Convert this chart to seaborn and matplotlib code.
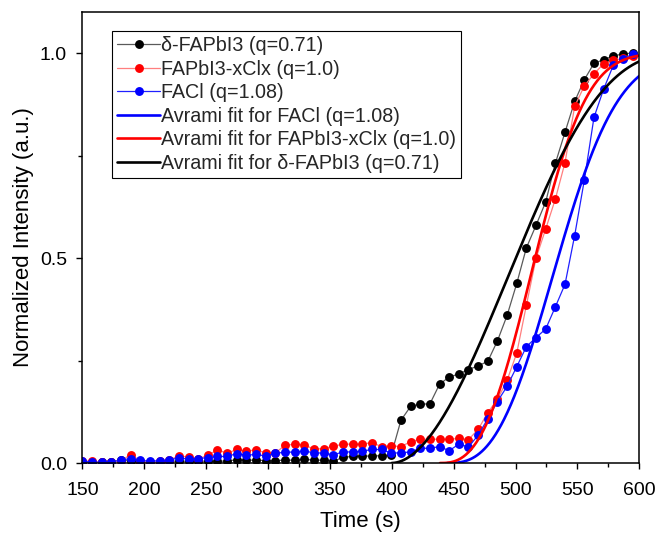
import numpy as np
import pandas as pd
import matplotlib
matplotlib.use("Agg")
import matplotlib.pyplot as plt
import seaborn as sns
from matplotlib.ticker import MultipleLocator

# Acquisition times (s)
time_s = [150.0, 157.8, 165.6, 173.4, 181.2, 189.0, 196.8, 204.6, 212.4, 220.2,
          228.0, 235.8, 243.6, 251.4, 259.2, 267.0, 274.8, 282.6, 290.4, 298.2,
          306.0, 313.8, 321.6, 329.4, 337.2, 345.0, 352.8, 360.6, 368.4, 376.2,
          384.0, 391.8, 399.6, 407.4, 415.2, 423.0, 430.8, 438.6, 446.4, 454.2,
          462.0, 469.8, 477.6, 485.4, 493.2, 501.0, 508.8, 516.6, 524.4, 532.2,
          540.0, 547.8, 555.6, 563.4, 571.2, 579.0, 586.8, 594.6]

# Normalized intensities
delta_fapbi3 = [0.001, 0.001, 0.002, 0.002, 0.008, 0.004, 0.003, 0.002, 0.003, 0.004,
                0.005, 0.004, 0.004, 0.005, 0.004, 0.005, 0.008, 0.007, 0.007, 0.006,
                0.006, 0.007, 0.007, 0.009, 0.007, 0.007, 0.004, 0.014, 0.016, 0.017,
                0.017, 0.018, 0.020, 0.104, 0.138, 0.144, 0.144, 0.192, 0.210, 0.217,
                0.228, 0.237, 0.248, 0.298, 0.360, 0.438, 0.525, 0.580, 0.637, 0.731,
                0.807, 0.882, 0.935, 0.975, 0.984, 0.993, 0.998, 1.000]
fapbi3_xclx = [0.006, 0.004, 0.002, 0.002, 0.006, 0.020, 0.006, 0.003, 0.005, 0.007,
               0.018, 0.014, 0.010, 0.019, 0.032, 0.024, 0.033, 0.029, 0.032, 0.025,
               0.025, 0.043, 0.046, 0.044, 0.034, 0.035, 0.041, 0.046, 0.046, 0.046,
               0.050, 0.040, 0.042, 0.040, 0.052, 0.058, 0.058, 0.058, 0.058, 0.060,
               0.057, 0.082, 0.123, 0.155, 0.202, 0.268, 0.385, 0.500, 0.571, 0.644,
               0.733, 0.870, 0.920, 0.949, 0.974, 0.982, 0.987, 0.993]
facl = [0.005, 0.002, 0.002, 0.003, 0.007, 0.011, 0.007, 0.004, 0.006, 0.007,
        0.013, 0.009, 0.011, 0.013, 0.016, 0.016, 0.023, 0.019, 0.021, 0.017,
        0.024, 0.026, 0.027, 0.029, 0.025, 0.024, 0.020, 0.027, 0.027, 0.029,
        0.033, 0.033, 0.024, 0.025, 0.027, 0.036, 0.036, 0.040, 0.030, 0.046,
        0.039, 0.068, 0.108, 0.150, 0.187, 0.235, 0.284, 0.306, 0.327, 0.381,
        0.436, 0.555, 0.690, 0.843, 0.912, 0.970, 0.985, 0.998]

# Generalized (q-exponential) Avrami fit parameters: onset t0 (s), time constant tau (s), exponent n, q
fit_facl = dict(t0=445.0, tau=101.0, n=2.75, q=1.08)
fit_xclx = dict(t0=439.0, tau=88.0, n=2.7, q=1.0)
fit_delta = dict(t0=400.0, tau=128.0, n=1.9, q=0.71)

series_labels = ["δ-FAPbI3 (q=0.71)", "FAPbI3-xClx (q=1.0)", "FACl (q=1.08)"]
fit_labels = ["Avrami fit for FACl (q=1.08)", "Avrami fit for FAPbI3-xClx (q=1.0)",
              "Avrami fit for δ-FAPbI3 (q=0.71)"]


def avrami_q(t, t0, tau, n, q):
    u = (np.clip(t - t0, 0, None) / tau) ** n
    if abs(q - 1.0) < 1e-9:
        return 1.0 - np.exp(-u)
    base = np.clip(1.0 - (1.0 - q) * u, 0.0, None)
    return 1.0 - base ** (1.0 / (1.0 - q))


def fit_frame(p):
    t = np.linspace(p["t0"], 600.0, 400)
    return pd.DataFrame({"t": t, "y": avrami_q(t, **p)})


sns.set_theme(style="ticks")
plt.rcParams["font.family"] = ["Liberation Sans", "DejaVu Sans"]

fig = plt.figure(figsize=(6.56, 5.33), dpi=100)
ax = fig.add_axes([0.1255, 0.1313, 0.849, 0.846])

data = pd.DataFrame({"t": time_s, "delta": delta_fapbi3, "xclx": fapbi3_xclx, "facl": facl})

ms = 6.4
sns.lineplot(data=data, x="t", y="delta", ax=ax, color="#5a5a5a", lw=0.9,
             marker="o", markersize=ms, markerfacecolor="black", markeredgecolor="black",
             markeredgewidth=0, label=series_labels[0])
sns.lineplot(data=data, x="t", y="xclx", ax=ax, color="#ff7f7f", lw=0.9,
             marker="o", markersize=ms, markerfacecolor="red", markeredgecolor="red",
             markeredgewidth=0, label=series_labels[1])
sns.lineplot(data=data, x="t", y="facl", ax=ax, color="#2020ff", lw=0.9,
             marker="o", markersize=ms, markerfacecolor="blue", markeredgecolor="blue",
             markeredgewidth=0, label=series_labels[2])

for p, c, lab in [(fit_facl, "blue", fit_labels[0]),
                  (fit_xclx, "red", fit_labels[1]),
                  (fit_delta, "black", fit_labels[2])]:
    sns.lineplot(data=fit_frame(p), x="t", y="y", ax=ax, color=c, lw=1.9, label=lab)

ax.set_xlim(150, 600)
ax.set_ylim(0, 1.1)
ax.xaxis.set_major_locator(MultipleLocator(50))
ax.xaxis.set_minor_locator(MultipleLocator(25))
ax.yaxis.set_major_locator(MultipleLocator(0.5))
ax.yaxis.set_minor_locator(MultipleLocator(0.25))
ax.tick_params(which="major", direction="out", length=4.5, width=1.0, labelsize=14,
               top=False, right=False, color="black", labelcolor="black")
ax.tick_params(axis="x", which="major", pad=9.5)
ax.tick_params(axis="y", which="major", pad=6.5)
ax.tick_params(which="minor", direction="out", length=2.8, width=1.0, top=False, right=False,
               color="black")
for s in ax.spines.values():
    s.set_visible(True)
    s.set_linewidth(1.1)
    s.set_color("black")

ax.set_xlabel("Time (s)", fontsize=16, labelpad=8, color="black")
ax.set_ylabel("Normalized Intensity (a.u.)", fontsize=16, labelpad=4, color="black")

handles, labels = ax.get_legend_handles_labels()
leg = ax.legend(handles, labels, loc="upper left", bbox_to_anchor=(0.054, 0.958),
                borderaxespad=0, fontsize=14.2, frameon=True, fancybox=False, shadow=False,
                borderpad=0.25, labelspacing=0.23, handlelength=2.15, handletextpad=0.05,
                edgecolor="black", framealpha=1)
leg.get_frame().set_linewidth(0.8)

fig.savefig("out.png", dpi=100)
